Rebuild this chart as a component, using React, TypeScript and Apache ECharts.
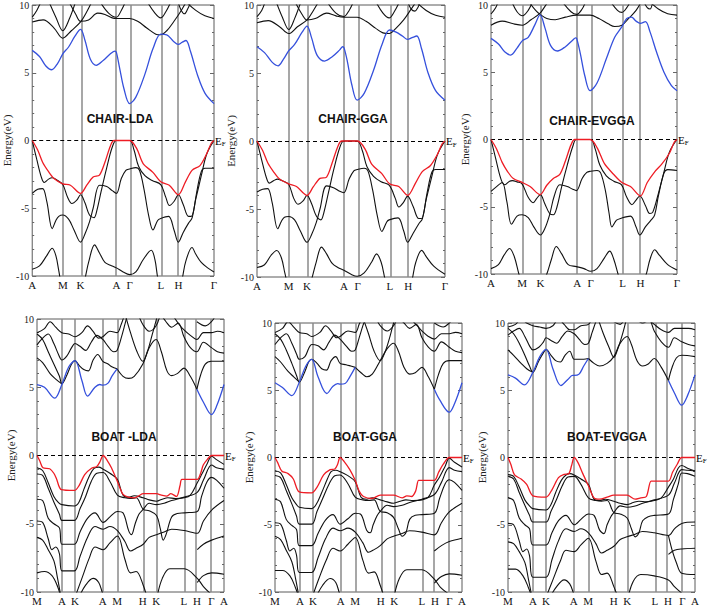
import React, { useEffect, useRef } from "react";
import * as echarts from "echarts";

type Band = number[][];

// ---------- k-path ticks ----------
const chairKPos = [0, 0.168, 0.266, 0.463, 0.536, 0.707, 0.804, 1];
const chairKLabels = ["A", "M", "K", "A", "Γ", "L", "H", "Γ"];
const boatKPos = [0, 0.133, 0.203, 0.352, 0.428, 0.566, 0.637, 0.786, 0.855, 0.933, 1];
const boatKLabels = ["M", "A", "K", "A", "M", "H", "K", "L", "H", "Γ", "A"];
const energyMin = -10;
const energyMax = 10;
const energyStep = 5;

// ---------- CHAIR-LDA ----------
const chairLdaRed: Band = [[0,0],[0.03,-0.7],[0.057,-1.6],[0.09,-2.3],[0.12,-2.8],[0.168,-3.2],[0.21,-3.3],[0.266,-3.9],[0.3,-3.3],[0.335,-2.7],[0.37,-2.55],[0.4,-1.6],[0.43,-0.4],[0.45,0],[0.536,0],[0.575,-0.6],[0.61,-1.7],[0.664,-2.35],[0.707,-3.05],[0.754,-3.3],[0.804,-4.0],[0.843,-3.05],[0.879,-2.2],[0.923,-1.85],[0.959,-1.0],[0.985,-0.2],[1,0]];
const chairLdaBlue: Band = [[0,6.65],[0.04,6.2],[0.075,5.5],[0.107,5.22],[0.14,5.7],[0.168,6.4],[0.2,6.9],[0.235,7.7],[0.266,8.2],[0.29,7.4],[0.32,6.0],[0.352,5.55],[0.39,5.9],[0.43,6.4],[0.455,6.6],[0.463,6.5],[0.48,5.4],[0.505,3.8],[0.536,2.72],[0.57,3.2],[0.62,4.9],[0.665,6.8],[0.707,7.85],[0.74,7.8],[0.775,7.35],[0.804,7.1],[0.825,7.25],[0.846,7.38],[0.87,6.6],[0.91,4.8],[0.95,3.5],[1,2.72]];
const chairLdaVB: Band[] = [
  [[0,0],[0.025,-1.4],[0.05,-2.7],[0.066,-3.1],[0.09,-2.85],[0.11,-2.75],[0.14,-2.95],[0.168,-3.25],[0.195,-4.2],[0.218,-4.65],[0.245,-4.4],[0.266,-4.0],[0.29,-4.6],[0.315,-5.5],[0.34,-5.7],[0.355,-5.2],[0.38,-3.7],[0.41,-2.0],[0.44,-0.5],[0.463,0],[0.536,0],[0.56,-0.7],[0.585,-1.9],[0.62,-2.6],[0.66,-2.95],[0.707,-3.25],[0.735,-4.2],[0.755,-4.8],[0.78,-4.5],[0.804,-4.0],[0.83,-4.7],[0.86,-5.6],[0.875,-5.6],[0.9,-4.3],[0.93,-2.6],[0.96,-1.0],[1,0]],
  [[0,-3.9],[0.03,-3.6],[0.057,-3.55],[0.08,-4.5],[0.11,-6.5],[0.13,-5.9],[0.146,-5.6],[0.168,-5.5],[0.2,-5.8],[0.23,-6.6],[0.266,-7.5],[0.29,-6.9],[0.315,-6.0],[0.335,-5.0],[0.37,-3.3],[0.41,-3.4],[0.44,-3.7],[0.463,-3.9],[0.49,-2.8],[0.515,-2.2],[0.536,-2.1],[0.57,-2.0],[0.59,-2.2],[0.615,-3.6],[0.64,-5.5],[0.664,-6.6],[0.69,-5.9],[0.707,-5.75],[0.75,-5.6],[0.78,-6.6],[0.804,-7.5],[0.83,-6.8],[0.86,-6.1],[0.88,-5.7],[0.905,-3.8],[0.93,-2.3],[0.95,-2.05],[1,-2.05]],
  [[0,-9.5],[0.04,-9.25],[0.08,-8.5],[0.11,-7.95],[0.13,-8.5],[0.146,-9.6],[0.16,-10.5],[0.2,-11.5],[0.26,-11.5],[0.29,-10.2],[0.31,-9.0],[0.343,-7.7],[0.37,-8.3],[0.4,-9.0],[0.43,-9.2],[0.463,-9.4],[0.5,-9.7],[0.536,-9.9],[0.57,-9.7],[0.61,-8.8],[0.655,-8.1],[0.675,-8.8],[0.69,-10.1],[0.71,-11.2],[0.8,-11.5],[0.825,-10.2],[0.845,-8.9],[0.879,-7.9],[0.9,-8.4],[0.93,-9.0],[0.965,-9.4],[1,-9.7]],
];
const chairLdaCB: Band[] = [
  [[0,9.1],[0.025,9.6],[0.05,10.3]],
  [[0,8.75],[0.06,8.9],[0.12,8.3],[0.168,7.55],[0.215,8.1],[0.266,8.75],[0.3,9.5],[0.33,10.3]],
  [[0.09,10.3],[0.13,9.1],[0.168,8.1],[0.205,9.0],[0.24,10.3]],
  [[0.2,10.3],[0.24,9.3],[0.266,8.8],[0.31,8.9],[0.36,9.4],[0.4,9.3],[0.44,9.05],[0.463,9.0],[0.536,9.0],[0.58,8.8],[0.63,8.3],[0.68,7.85],[0.707,7.8],[0.74,8.1],[0.78,8.8],[0.82,9.6],[0.85,10.3]],
  [[0.37,10.3],[0.42,9.4],[0.463,9.1],[0.49,9.6],[0.515,10.3]],
  [[0.63,10.3],[0.675,9.4],[0.707,9.05],[0.735,9.5],[0.765,10.3]],
  [[0.8,10.3],[0.82,9.6],[0.838,9.35],[0.855,9.7],[0.875,10.3]],
  [[0.84,10.3],[0.9,9.6],[0.95,9.2],[1,9.0]],
];

// ---------- CHAIR-GGA ----------
const chairGgaRed: Band = [[0,0],[0.03,-0.7],[0.057,-1.6],[0.09,-2.3],[0.12,-2.8],[0.168,-3.15],[0.21,-3.35],[0.266,-4.0],[0.3,-3.35],[0.335,-2.75],[0.37,-2.65],[0.4,-1.6],[0.43,-0.4],[0.45,0],[0.535,0],[0.575,-0.6],[0.61,-1.7],[0.664,-2.4],[0.705,-3.15],[0.754,-3.35],[0.802,-4.0],[0.843,-3.1],[0.879,-2.25],[0.923,-1.8],[0.959,-1.0],[0.985,-0.2],[1,0]];
const chairGgaBlue: Band = [[0,6.93],[0.04,6.5],[0.08,5.8],[0.112,5.53],[0.14,6.0],[0.169,6.64],[0.2,7.1],[0.24,8.0],[0.266,8.45],[0.29,7.6],[0.32,6.3],[0.36,5.88],[0.4,6.2],[0.44,6.7],[0.456,6.93],[0.463,6.85],[0.48,5.9],[0.505,4.1],[0.533,3.0],[0.57,3.5],[0.62,5.2],[0.665,7.1],[0.705,8.16],[0.74,8.0],[0.775,7.7],[0.801,7.47],[0.825,7.6],[0.85,7.72],[0.875,6.8],[0.91,5.0],[0.95,3.7],[1,3.0]];
const chairGgaVB: Band[] = [
  [[0,0],[0.025,-1.4],[0.05,-2.7],[0.066,-3.1],[0.09,-2.9],[0.11,-2.8],[0.14,-2.95],[0.169,-3.2],[0.195,-4.2],[0.218,-4.65],[0.245,-4.4],[0.266,-4.0],[0.29,-4.6],[0.315,-5.5],[0.34,-5.8],[0.355,-5.3],[0.38,-3.8],[0.41,-2.0],[0.44,-0.5],[0.462,0],[0.533,0],[0.56,-0.7],[0.585,-1.9],[0.62,-2.6],[0.66,-3.0],[0.703,-3.25],[0.735,-4.2],[0.755,-4.85],[0.78,-4.5],[0.801,-4.05],[0.83,-4.8],[0.86,-5.7],[0.875,-5.7],[0.9,-4.3],[0.93,-2.6],[0.96,-1.0],[1,0]],
  [[0,-3.75],[0.03,-3.55],[0.057,-3.5],[0.08,-4.5],[0.11,-6.45],[0.13,-5.9],[0.146,-5.6],[0.169,-5.55],[0.2,-5.8],[0.23,-6.6],[0.266,-7.45],[0.29,-6.9],[0.315,-6.0],[0.335,-5.0],[0.37,-3.3],[0.41,-3.45],[0.44,-3.7],[0.462,-3.8],[0.49,-2.8],[0.515,-2.2],[0.533,-2.1],[0.57,-2.0],[0.59,-2.2],[0.615,-3.6],[0.64,-5.5],[0.664,-6.65],[0.69,-5.95],[0.703,-5.8],[0.75,-5.65],[0.78,-6.6],[0.801,-7.45],[0.83,-6.8],[0.86,-6.1],[0.88,-5.7],[0.905,-3.8],[0.93,-2.3],[0.95,-2.1],[1,-2.1]],
  [[0,-9.3],[0.04,-9.1],[0.075,-8.4],[0.105,-8.05],[0.13,-8.6],[0.148,-9.7],[0.165,-10.6],[0.2,-11.5],[0.26,-11.5],[0.29,-10.2],[0.315,-8.9],[0.343,-7.8],[0.37,-8.3],[0.4,-9.0],[0.43,-9.3],[0.462,-9.5],[0.5,-9.8],[0.533,-9.95],[0.57,-9.7],[0.61,-8.9],[0.636,-8.3],[0.66,-8.9],[0.68,-10.1],[0.7,-11.2],[0.8,-11.5],[0.825,-10.2],[0.845,-8.9],[0.876,-8.04],[0.9,-8.5],[0.94,-9.2],[1,-9.8]],
];
const chairGgaCB: Band[] = [
  [[0,9.15],[0.025,9.6],[0.045,10.3]],
  [[0,8.7],[0.06,8.85],[0.12,8.4],[0.169,7.9],[0.215,8.4],[0.266,8.9],[0.3,9.6],[0.33,10.3]],
  [[0.1,10.3],[0.135,9.1],[0.169,8.2],[0.2,9.0],[0.235,10.3]],
  [[0.2,10.3],[0.24,9.3],[0.266,8.9],[0.31,9.0],[0.37,9.4],[0.42,9.2],[0.462,9.1],[0.533,9.1],[0.58,8.8],[0.63,8.3],[0.67,7.95],[0.703,7.9],[0.74,8.3],[0.78,8.9],[0.82,9.7],[0.85,10.3]],
  [[0.37,10.3],[0.42,9.4],[0.462,9.15],[0.49,9.6],[0.515,10.3]],
  [[0.63,10.3],[0.67,9.4],[0.703,9.05],[0.73,9.5],[0.76,10.3]],
  [[0.8,10.3],[0.82,9.7],[0.84,9.55],[0.855,9.8],[0.87,10.3]],
  [[0.84,10.3],[0.9,9.6],[0.95,9.25],[1,9.1]],
];

// ---------- CHAIR-EVGGA ----------
const chairEvRed: Band = [[0,0],[0.03,-0.7],[0.06,-1.7],[0.09,-2.4],[0.12,-2.9],[0.169,-3.2],[0.21,-3.5],[0.264,-4.1],[0.3,-3.4],[0.335,-2.9],[0.37,-2.6],[0.4,-1.6],[0.43,-0.4],[0.45,0],[0.533,0],[0.57,-0.6],[0.61,-1.8],[0.66,-2.6],[0.704,-3.2],[0.75,-3.5],[0.803,-4.2],[0.84,-3.2],[0.88,-2.4],[0.92,-1.8],[0.96,-1.0],[0.985,-0.2],[1,0]];
const chairEvBlue: Band = [[0,7.52],[0.04,7.1],[0.075,6.5],[0.106,6.28],[0.14,6.8],[0.169,7.35],[0.2,7.6],[0.235,8.5],[0.264,9.26],[0.29,8.3],[0.32,7.0],[0.357,6.58],[0.4,6.9],[0.44,7.4],[0.455,7.55],[0.461,7.5],[0.48,6.4],[0.505,4.7],[0.533,3.63],[0.57,4.2],[0.62,6.0],[0.665,7.6],[0.704,8.39],[0.73,9.0],[0.755,9.1],[0.78,8.8],[0.803,8.64],[0.83,8.76],[0.855,8.0],[0.89,6.5],[0.93,5.0],[0.97,4.0],[1,3.63]];
const chairEvVB: Band[] = [
  [[0,0],[0.025,-1.4],[0.055,-3.0],[0.075,-3.36],[0.1,-3.1],[0.115,-3.06],[0.14,-3.15],[0.167,-3.3],[0.2,-4.3],[0.226,-4.7],[0.245,-4.4],[0.265,-4.1],[0.29,-4.8],[0.315,-5.5],[0.335,-5.6],[0.355,-5.0],[0.38,-3.5],[0.41,-1.9],[0.44,-0.5],[0.459,0],[0.536,0],[0.56,-0.7],[0.585,-1.9],[0.62,-2.7],[0.66,-3.1],[0.701,-3.36],[0.73,-4.3],[0.758,-4.85],[0.78,-4.5],[0.8,-4.2],[0.83,-4.9],[0.853,-5.5],[0.87,-5.4],[0.9,-4.0],[0.93,-2.4],[0.96,-0.9],[1,0]],
  [[0,-3.86],[0.03,-3.5],[0.06,-3.2],[0.085,-4.6],[0.11,-6.3],[0.14,-5.7],[0.167,-5.6],[0.2,-5.8],[0.23,-6.5],[0.265,-7.1],[0.29,-6.6],[0.315,-5.6],[0.34,-4.2],[0.37,-3.36],[0.41,-3.5],[0.44,-3.7],[0.459,-3.8],[0.49,-2.9],[0.515,-2.45],[0.536,-2.36],[0.57,-2.3],[0.59,-2.5],[0.615,-3.8],[0.635,-5.5],[0.65,-6.5],[0.675,-6.0],[0.701,-5.85],[0.75,-5.7],[0.78,-6.5],[0.8,-7.1],[0.83,-6.5],[0.86,-6.0],[0.88,-5.6],[0.9,-4.2],[0.93,-2.5],[0.95,-2.24],[1,-2.3]],
  [[0,-9.6],[0.04,-9.3],[0.07,-8.6],[0.1,-8.1],[0.125,-8.7],[0.15,-10.0],[0.17,-10.8],[0.22,-11.5],[0.26,-11.2],[0.3,-10.0],[0.325,-8.9],[0.351,-7.96],[0.38,-8.5],[0.415,-9.3],[0.459,-9.45],[0.5,-9.6],[0.536,-9.8],[0.57,-9.6],[0.61,-8.8],[0.638,-8.3],[0.66,-8.9],[0.683,-10.0],[0.7,-10.8],[0.78,-11.5],[0.83,-10.2],[0.855,-8.9],[0.88,-8.2],[0.905,-8.6],[0.95,-9.3],[1,-9.7]],
];
const chairEvCB: Band[] = [
  [[0,9.33],[0.025,9.8],[0.04,10.3]],
  [[0,8.5],[0.06,8.8],[0.12,8.6],[0.169,8.5],[0.215,8.9],[0.264,9.4],[0.29,9.9],[0.31,10.3]],
  [[0.11,10.3],[0.14,9.5],[0.169,9.2],[0.2,9.6],[0.225,10.3]],
  [[0.2,10.3],[0.24,9.6],[0.264,9.3],[0.3,9.0],[0.345,8.9],[0.4,9.1],[0.461,9.25],[0.533,9.25],[0.58,9.0],[0.63,8.6],[0.665,8.4],[0.704,8.5],[0.74,9.0],[0.78,9.6],[0.81,10.3]],
  [[0.38,10.3],[0.43,9.5],[0.461,9.3],[0.49,9.7],[0.51,10.3]],
  [[0.64,10.3],[0.68,9.6],[0.704,9.45],[0.73,9.8],[0.75,10.3]],
  [[0.82,10.3],[0.84,9.8],[0.855,9.7],[0.87,10.3]],
  [[0.85,10.3],[0.9,9.7],[0.95,9.35],[1,9.25]],
];

// ---------- BOAT-LDA ----------
const boatLdaRed: Band = [[0,0],[0.015,-0.4],[0.032,-0.9],[0.068,-0.97],[0.09,-1.3],[0.104,-1.7],[0.13,-2.5],[0.2,-2.56],[0.225,-2.2],[0.255,-1.4],[0.29,-0.95],[0.32,-0.8],[0.335,-0.5],[0.354,0],[0.375,-0.35],[0.398,-0.9],[0.43,-1.9],[0.46,-2.85],[0.4875,-3.05],[0.523,-3.1],[0.545,-2.95],[0.568,-2.8],[0.639,-2.8],[0.665,-2.9],[0.693,-2.98],[0.716,-2.8],[0.746,-3.0],[0.765,-2.2],[0.775,-1.75],[0.857,-1.75],[0.875,-1.3],[0.889,-0.7],[0.91,-0.3],[0.934,0],[1,0]];
const boatLdaBlueA: Band = [[0,5.2],[0.04,5.0],[0.095,4.2],[0.133,5.2],[0.17,6.5],[0.203,6.95],[0.24,5.5],[0.27,4.35],[0.31,5.0],[0.335,5.2],[0.352,5.15],[0.38,5.3],[0.4,5.8],[0.428,6.35]];
const boatLdaBlueB: Band = [[0.855,4.85],[0.89,3.9],[0.933,3.0],[0.96,3.6],[1,5.2]];
const boatLdaCB: Band[] = [
  [[0.428,6.35],[0.46,5.8],[0.49,5.65],[0.52,5.8],[0.566,6.7],[0.6,7.9],[0.637,8.5],[0.665,7.6],[0.695,6.2],[0.72,5.85],[0.75,6.0],[0.786,6.4],[0.82,5.8],[0.855,4.85]],
  [[0,7.15],[0.03,6.8],[0.07,6.0],[0.1,5.6],[0.133,5.25]],
  [[0,8.9],[0.03,8.5],[0.06,7.6],[0.09,6.7],[0.12,5.8],[0.133,5.25],[0.16,5.9],[0.185,6.7],[0.203,6.95],[0.225,6.6],[0.25,6.3],[0.275,6.2],[0.3,7.0],[0.325,7.4],[0.352,6.9],[0.38,6.7],[0.4,6.5],[0.428,6.35]],
  [[0,8.1],[0.03,8.6],[0.06,8.9],[0.09,8.2],[0.115,7.4],[0.133,7.0],[0.16,7.3],[0.185,7.9],[0.203,8.2],[0.23,8.0],[0.26,7.7],[0.29,8.3],[0.32,8.8],[0.352,8.5],[0.38,8.0],[0.41,7.6],[0.428,7.7],[0.45,8.6],[0.47,9.6],[0.485,10.4]],
  [[0,9.0],[0.04,9.3],[0.07,9.8],[0.1,9.4],[0.133,9.0],[0.17,8.9],[0.203,8.7],[0.24,9.0],[0.27,9.5],[0.3,9.1],[0.33,8.6],[0.352,8.7],[0.39,9.1],[0.428,9.0],[0.45,9.6],[0.47,10.4]],
  [[0.47,10.4],[0.5,9.0],[0.535,7.6],[0.566,6.9],[0.59,7.6],[0.615,8.8],[0.637,9.9],[0.645,10.4]],
  [[0.54,10.4],[0.566,9.6],[0.6,9.1],[0.637,9.5],[0.66,10.4]],
  [[0.66,10.4],[0.69,9.8],[0.72,9.4],[0.755,9.7],[0.786,8.7],[0.82,7.9],[0.855,7.6],[0.89,8.3],[0.933,7.9],[0.965,7.6],[1,7.5]],
  [[0.72,10.4],[0.76,9.6],[0.786,9.2],[0.82,8.8],[0.855,8.5],[0.89,9.0],[0.933,9.0],[0.965,9.1],[1,9.0]],
  [[0.855,4.85],[0.875,5.9],[0.9,6.7],[0.933,6.9],[1,6.9]],
  [[0.855,9.8],[0.9,9.5],[0.933,9.8],[0.96,10.4]],
];
const boatLdaVB: Band[] = [
  [[0,-0.9],[0.03,-1.1],[0.06,-2.0],[0.09,-3.0],[0.115,-3.45],[0.133,-3.6],[0.2,-3.7],[0.225,-3.4],[0.25,-2.5],[0.28,-1.5],[0.305,-0.95],[0.33,-0.85],[0.354,-1.0],[0.39,-1.3],[0.43,-1.75],[0.46,-2.9],[0.49,-3.05],[0.52,-2.95],[0.568,-3.1],[0.6,-3.25],[0.639,-3.35],[0.67,-3.2],[0.7,-3.1],[0.74,-3.15],[0.788,-3.1],[0.82,-2.9],[0.857,-2.0],[0.88,-1.4],[0.91,-0.6],[0.934,-0.05],[0.96,-0.3],[1,-0.65]],
  [[0,-1.35],[0.03,-1.45],[0.06,-2.4],[0.09,-3.4],[0.12,-4.3],[0.133,-4.75],[0.2,-4.75],[0.23,-3.9],[0.26,-3.0],[0.29,-1.9],[0.32,-1.3],[0.354,-1.25],[0.39,-1.9],[0.43,-2.9],[0.47,-3.1],[0.5,-3.15],[0.53,-3.1],[0.568,-3.95],[0.6,-4.05],[0.639,-4.4],[0.66,-5.4],[0.675,-6.2],[0.69,-5.8],[0.72,-4.5],[0.75,-4.25],[0.788,-4.2],[0.857,-4.1],[0.88,-3.0],[0.91,-1.9],[0.934,-1.6],[0.96,-1.8],[1,-2.4]],
  [[0,-3.2],[0.03,-3.3],[0.06,-4.6],[0.09,-5.0],[0.12,-5.3],[0.133,-6.5],[0.2,-6.5],[0.23,-5.6],[0.27,-4.6],[0.31,-4.2],[0.354,-4.9],[0.39,-4.5],[0.43,-4.1],[0.46,-4.2],[0.49,-5.5],[0.505,-5.8],[0.525,-5.0],[0.545,-4.3],[0.568,-3.95],[0.6,-3.5],[0.639,-3.6],[0.68,-3.5],[0.72,-3.3],[0.788,-3.05],[0.857,-2.7],[0.89,-1.8],[0.934,-0.7],[0.96,-0.9],[1,-1.0]],
  [[0,-4.8],[0.03,-4.9],[0.06,-6.1],[0.08,-6.9],[0.1,-6.7],[0.12,-7.2],[0.133,-8.45],[0.2,-8.45],[0.23,-7.4],[0.27,-6.0],[0.31,-5.2],[0.354,-5.4],[0.39,-5.2],[0.43,-5.5],[0.47,-6.3],[0.5,-7.0],[0.53,-6.8],[0.568,-6.5],[0.6,-6.0],[0.639,-5.8],[0.68,-5.6],[0.72,-5.4],[0.788,-5.5],[0.857,-5.7],[0.89,-4.8],[0.934,-4.0],[1,-3.3]],
  [[0,-6.0],[0.03,-6.2],[0.06,-6.9],[0.09,-7.7],[0.11,-9.0],[0.13,-10.5]],
  [[0,-8.6],[0.04,-8.5],[0.08,-8.8],[0.11,-9.6],[0.13,-10.5]],
  [[0.2,-10.5],[0.24,-9.0],[0.28,-7.5],[0.31,-6.7],[0.354,-6.9],[0.39,-6.4],[0.43,-5.9],[0.47,-7.6],[0.5,-8.6],[0.53,-8.5],[0.568,-9.5],[0.59,-10.5]],
  [[0.22,-10.5],[0.26,-9.5],[0.3,-9.0],[0.33,-9.3],[0.354,-10.2],[0.37,-10.5]],
  [[0.64,-10.5],[0.67,-9.0],[0.71,-8.3],[0.788,-8.3],[0.857,-9.0],[0.89,-9.6],[0.934,-10.2],[0.96,-10.5]],
  [[0.857,-6.9],[0.89,-6.5],[0.934,-6.2],[1,-5.9]],
  [[0.857,-9.3],[0.89,-8.8],[0.934,-8.6],[1,-8.7]],
];

// ---------- BOAT-GGA ----------
const boatGgaRed: Band = [[0,0],[0.015,-0.4],[0.036,-1.0],[0.07,-1.2],[0.098,-1.6],[0.13,-2.56],[0.196,-2.63],[0.225,-2.2],[0.26,-1.3],[0.295,-0.9],[0.32,-0.85],[0.335,-0.5],[0.348,0],[0.37,-0.3],[0.4,-0.9],[0.429,-1.7],[0.45,-2.5],[0.473,-2.9],[0.518,-3.05],[0.5625,-2.8],[0.634,-2.8],[0.68,-3.0],[0.705,-2.85],[0.73,-2.9],[0.752,-2.5],[0.768,-1.7],[0.786,-1.7],[0.852,-1.7],[0.875,-1.1],[0.9,-0.5],[0.932,0],[1,0]];
const boatGgaBlueA: Band = [[0,5.56],[0.04,5.2],[0.09,4.6],[0.13,5.6],[0.165,6.8],[0.196,7.3],[0.23,6.0],[0.277,4.76],[0.31,5.3],[0.335,5.5],[0.348,5.45],[0.375,5.5],[0.4,6.0],[0.429,6.7]];
const boatGgaBlueB: Band = [[0.852,5.07],[0.88,4.3],[0.932,3.37],[0.96,4.0],[1,5.56]];
const boatGgaCB: Band[] = [
  [[0.429,6.7],[0.46,6.3],[0.49,6.0],[0.52,6.2],[0.5625,7.2],[0.6,8.1],[0.634,8.5],[0.66,7.9],[0.69,6.7],[0.72,6.2],[0.75,6.3],[0.786,6.7],[0.82,6.0],[0.852,5.07]],
  [[0,7.5],[0.03,7.1],[0.07,6.4],[0.1,6.0],[0.13,5.6]],
  [[0,9.2],[0.03,8.8],[0.06,8.0],[0.09,7.0],[0.115,6.1],[0.13,5.6],[0.16,6.4],[0.18,7.1],[0.196,7.3],[0.225,7.0],[0.25,6.6],[0.275,6.5],[0.3,7.2],[0.325,7.5],[0.348,7.0],[0.38,6.9],[0.405,6.8],[0.429,6.7]],
  [[0,8.4],[0.03,8.9],[0.06,9.2],[0.09,8.5],[0.115,7.7],[0.13,7.3],[0.16,7.5],[0.18,8.1],[0.196,8.4],[0.23,8.3],[0.26,8.0],[0.29,8.6],[0.32,9.1],[0.348,8.8],[0.38,8.3],[0.41,7.9],[0.429,8.0],[0.45,8.9],[0.47,9.8],[0.485,10.4]],
  [[0,9.3],[0.04,9.6],[0.07,10.1],[0.1,9.7],[0.13,9.3],[0.17,9.2],[0.196,9.0],[0.24,9.3],[0.27,9.8],[0.3,9.4],[0.33,8.9],[0.348,9.0],[0.39,9.4],[0.429,9.3],[0.45,9.9],[0.465,10.4]],
  [[0.47,10.4],[0.5,9.2],[0.53,7.9],[0.5625,7.2],[0.59,7.9],[0.615,9.0],[0.634,10.0],[0.645,10.4]],
  [[0.54,10.4],[0.5625,9.8],[0.6,9.4],[0.634,9.8],[0.655,10.4]],
  [[0.66,10.4],[0.69,10.0],[0.72,9.6],[0.755,9.9],[0.786,8.9],[0.82,8.2],[0.852,7.9],[0.89,8.6],[0.932,8.2],[0.965,7.9],[1,7.8]],
  [[0.72,10.4],[0.76,9.8],[0.786,9.4],[0.82,9.0],[0.852,8.8],[0.89,9.2],[0.932,9.2],[0.965,9.3],[1,9.2]],
  [[0.852,5.07],[0.875,6.2],[0.9,7.0],[0.932,7.2],[1,7.2]],
  [[0.852,10.0],[0.9,9.7],[0.932,10.0],[0.96,10.4]],
];
const boatGgaVB: Band[] = [
  [[0,-0.98],[0.03,-1.15],[0.06,-2.0],[0.09,-3.0],[0.115,-3.5],[0.13,-3.7],[0.196,-3.8],[0.22,-3.5],[0.25,-2.6],[0.28,-1.6],[0.3,-1.05],[0.325,-0.95],[0.348,-1.05],[0.39,-1.35],[0.429,-1.8],[0.46,-2.95],[0.49,-3.1],[0.52,-3.0],[0.5625,-3.15],[0.6,-3.3],[0.634,-3.4],[0.67,-3.25],[0.7,-3.15],[0.74,-3.2],[0.786,-3.15],[0.82,-2.95],[0.852,-2.05],[0.88,-1.45],[0.91,-0.65],[0.932,-0.05],[0.96,-0.35],[1,-0.7]],
  [[0,-1.34],[0.03,-1.5],[0.06,-2.45],[0.09,-3.45],[0.115,-4.35],[0.13,-4.95],[0.196,-4.95],[0.225,-4.0],[0.255,-3.05],[0.29,-1.95],[0.32,-1.35],[0.348,-1.3],[0.39,-1.95],[0.429,-2.95],[0.47,-3.15],[0.5,-3.2],[0.53,-3.15],[0.5625,-4.0],[0.6,-4.1],[0.634,-4.45],[0.66,-5.3],[0.68,-5.85],[0.7,-5.6],[0.72,-4.6],[0.75,-4.3],[0.786,-4.25],[0.852,-4.15],[0.88,-3.05],[0.91,-1.95],[0.932,-1.65],[0.96,-1.85],[1,-2.45]],
  [[0,-3.1],[0.03,-3.3],[0.06,-4.6],[0.09,-5.05],[0.115,-5.35],[0.13,-6.55],[0.196,-6.55],[0.23,-5.65],[0.27,-4.65],[0.31,-4.25],[0.348,-4.95],[0.39,-4.55],[0.429,-4.15],[0.46,-4.25],[0.49,-5.4],[0.509,-5.6],[0.525,-5.0],[0.545,-4.35],[0.5625,-4.0],[0.6,-3.55],[0.634,-3.65],[0.68,-3.55],[0.72,-3.35],[0.786,-3.1],[0.852,-2.75],[0.89,-1.85],[0.932,-0.75],[0.96,-0.95],[1,-1.05]],
  [[0,-4.85],[0.03,-4.95],[0.06,-6.15],[0.08,-6.95],[0.1,-6.75],[0.115,-7.25],[0.13,-8.55],[0.196,-8.55],[0.23,-7.45],[0.27,-6.05],[0.31,-5.25],[0.348,-5.45],[0.39,-5.25],[0.429,-5.55],[0.47,-6.35],[0.5,-7.05],[0.53,-6.85],[0.5625,-6.55],[0.6,-6.05],[0.634,-5.85],[0.68,-5.65],[0.72,-5.45],[0.786,-5.55],[0.852,-5.75],[0.89,-4.85],[0.932,-4.05],[1,-3.4]],
  [[0,-5.85],[0.03,-6.1],[0.06,-6.9],[0.09,-7.75],[0.11,-9.0],[0.13,-10.5]],
  [[0,-8.4],[0.04,-8.4],[0.08,-8.8],[0.11,-9.7],[0.13,-10.5]],
  [[0.196,-10.5],[0.235,-9.0],[0.275,-7.6],[0.31,-6.75],[0.348,-6.95],[0.39,-6.45],[0.429,-5.95],[0.47,-7.65],[0.5,-8.6],[0.53,-8.5],[0.5625,-9.5],[0.585,-10.5]],
  [[0.215,-10.5],[0.255,-9.5],[0.295,-9.0],[0.325,-9.3],[0.348,-10.2],[0.365,-10.5]],
  [[0.634,-10.5],[0.665,-9.0],[0.705,-8.35],[0.786,-8.35],[0.852,-9.05],[0.885,-9.65],[0.932,-10.2],[0.955,-10.5]],
  [[0.852,-6.95],[0.89,-6.55],[0.932,-6.25],[1,-6.0]],
  [[0.852,-9.35],[0.89,-8.85],[0.932,-8.65],[1,-8.75]],
];

// ---------- BOAT-EVGGA ----------
const boatEvRed: Band = [[0,0],[0.015,-0.5],[0.035,-1.3],[0.07,-1.6],[0.1,-2.0],[0.133,-2.85],[0.2035,-2.95],[0.235,-2.4],[0.27,-1.5],[0.3,-1.25],[0.325,-1.2],[0.34,-0.6],[0.354,0],[0.375,-0.4],[0.4,-1.2],[0.43,-2.1],[0.46,-3.0],[0.49,-3.1],[0.53,-2.95],[0.566,-2.8],[0.637,-2.8],[0.68,-3.1],[0.71,-3.0],[0.74,-2.9],[0.765,-1.75],[0.782,-1.75],[0.858,-1.75],[0.88,-1.1],[0.905,-0.5],[0.929,0],[1,0]];
const boatEvBlueA: Band = [[0,6.14],[0.04,5.9],[0.088,5.4],[0.133,6.33],[0.17,7.5],[0.2035,8.04],[0.24,6.6],[0.283,5.35],[0.32,5.8],[0.345,6.1],[0.354,6.1],[0.38,6.2],[0.405,6.8],[0.43,7.36]];
const boatEvBlueB: Band = [[0.858,5.72],[0.89,4.8],[0.929,3.89],[0.96,4.6],[1,6.14]];
const boatEvCB: Band[] = [
  [[0.43,7.36],[0.46,7.0],[0.49,6.8],[0.53,7.0],[0.566,7.5],[0.6,8.5],[0.637,9.0],[0.66,8.4],[0.69,7.2],[0.72,6.8],[0.75,6.95],[0.782,7.36],[0.82,6.7],[0.858,5.72]],
  [[0,8.0],[0.03,7.6],[0.07,7.0],[0.1,6.6],[0.133,6.33]],
  [[0,9.6],[0.03,9.2],[0.06,8.5],[0.09,7.6],[0.115,6.8],[0.133,6.33],[0.165,7.2],[0.19,7.8],[0.2035,8.04],[0.23,7.6],[0.255,7.2],[0.28,7.1],[0.305,7.6],[0.33,7.9],[0.354,7.3],[0.38,7.3],[0.405,7.3],[0.43,7.36]],
  [[0,9.1],[0.03,9.4],[0.06,9.6],[0.09,9.0],[0.115,8.3],[0.133,8.0],[0.165,8.2],[0.19,8.6],[0.2035,8.9],[0.23,8.7],[0.26,8.5],[0.29,9.0],[0.32,9.4],[0.354,9.2],[0.38,8.8],[0.41,8.4],[0.43,8.5],[0.45,9.3],[0.47,10.1],[0.48,10.4]],
  [[0,9.7],[0.04,9.9],[0.07,10.3],[0.1,10.0],[0.133,9.8],[0.17,9.7],[0.2035,9.6],[0.24,9.8],[0.27,10.3],[0.3,9.9],[0.33,9.5],[0.354,9.5],[0.39,9.8],[0.43,9.9],[0.45,10.4]],
  [[0.48,10.4],[0.51,9.2],[0.54,8.2],[0.566,7.45],[0.59,8.2],[0.615,9.3],[0.635,10.4]],
  [[0.55,10.4],[0.566,10.1],[0.6,9.9],[0.625,10.4]],
  [[0.68,10.4],[0.72,10.0],[0.755,10.2],[0.782,9.4],[0.82,8.6],[0.858,8.2],[0.89,8.9],[0.929,8.6],[0.965,8.4],[1,8.3]],
  [[0.74,10.4],[0.782,9.9],[0.82,9.5],[0.858,9.3],[0.89,9.6],[0.929,9.6],[0.965,9.6],[1,9.5]],
  [[0.858,5.72],[0.875,6.6],[0.9,7.4],[0.929,7.6],[1,7.5]],
];
const boatEvVB: Band[] = [
  [[0,-1.27],[0.03,-1.4],[0.06,-2.2],[0.09,-3.15],[0.115,-3.6],[0.133,-3.8],[0.2035,-3.9],[0.23,-3.5],[0.255,-2.6],[0.285,-1.7],[0.31,-1.3],[0.33,-1.2],[0.354,-1.3],[0.39,-1.6],[0.43,-2.0],[0.46,-3.1],[0.49,-3.2],[0.52,-3.1],[0.566,-3.25],[0.6,-3.4],[0.637,-3.5],[0.67,-3.35],[0.7,-3.25],[0.74,-3.3],[0.782,-3.2],[0.82,-3.0],[0.858,-2.2],[0.885,-1.6],[0.91,-0.8],[0.929,-0.6],[0.96,-0.8],[1,-1.0]],
  [[0,-1.4],[0.03,-1.6],[0.06,-2.6],[0.09,-3.55],[0.115,-4.3],[0.133,-4.8],[0.2035,-4.8],[0.23,-4.0],[0.26,-3.1],[0.29,-2.1],[0.32,-1.45],[0.354,-1.4],[0.39,-2.0],[0.43,-3.0],[0.47,-3.2],[0.5,-3.25],[0.53,-3.2],[0.566,-4.1],[0.6,-4.2],[0.637,-4.5],[0.66,-5.3],[0.68,-5.9],[0.7,-5.6],[0.72,-4.7],[0.75,-4.4],[0.782,-4.3],[0.858,-4.2],[0.885,-3.1],[0.91,-2.0],[0.929,-1.15],[0.96,-1.2],[1,-1.4]],
  [[0,-2.98],[0.03,-3.2],[0.06,-4.5],[0.09,-5.0],[0.115,-5.3],[0.133,-6.5],[0.2035,-6.5],[0.235,-5.6],[0.27,-4.7],[0.31,-4.3],[0.354,-5.0],[0.39,-4.6],[0.43,-4.2],[0.46,-4.3],[0.49,-5.4],[0.513,-5.66],[0.53,-5.0],[0.55,-4.4],[0.566,-4.1],[0.6,-3.6],[0.637,-3.7],[0.68,-3.6],[0.72,-3.4],[0.782,-3.15],[0.858,-2.8],[0.89,-1.9],[0.929,-0.9],[0.96,-0.95],[1,-1.0]],
  [[0,-4.9],[0.03,-5.0],[0.06,-6.2],[0.08,-7.0],[0.1,-6.8],[0.115,-7.3],[0.133,-8.9],[0.2035,-8.9],[0.235,-7.6],[0.27,-6.2],[0.31,-5.3],[0.354,-5.5],[0.39,-5.3],[0.43,-5.6],[0.47,-6.4],[0.5,-7.1],[0.53,-6.9],[0.566,-6.6],[0.6,-6.1],[0.637,-5.9],[0.68,-5.7],[0.72,-5.5],[0.782,-5.6],[0.858,-5.8],[0.89,-5.3],[0.929,-4.9],[1,-4.8]],
  [[0,-6.27],[0.03,-6.4],[0.06,-7.0],[0.09,-7.8],[0.11,-9.1],[0.13,-10.5]],
  [[0,-8.3],[0.04,-8.3],[0.08,-8.8],[0.11,-9.7],[0.13,-10.5]],
  [[0.2,-10.5],[0.24,-9.1],[0.28,-7.7],[0.31,-6.9],[0.354,-7.0],[0.39,-6.5],[0.43,-6.0],[0.47,-7.7],[0.5,-8.7],[0.53,-8.6],[0.566,-9.6],[0.59,-10.5]],
  [[0.22,-10.5],[0.26,-9.6],[0.3,-9.1],[0.33,-9.4],[0.354,-10.2],[0.37,-10.5]],
  [[0.64,-10.5],[0.67,-9.2],[0.71,-8.7],[0.782,-8.8],[0.858,-9.1],[0.89,-9.6],[0.929,-10.1],[0.955,-10.5]],
  [[0.858,-7.2],[0.89,-6.9],[0.929,-6.8],[1,-6.75]],
  [[0.858,-5.8],[0.88,-7.0],[0.9,-7.8],[0.929,-8.6],[1,-8.7]],
];

const SERIF = '"Liberation Serif", "DejaVu Serif", "Times New Roman", serif';
const SANS = '"Liberation Sans", Arial, Helvetica, sans-serif';

interface Panel {
  title: string; left: number; top: number; width: number; height: number;
  kPos: number[]; kLabels: string[]; red: Band; blue: Band[]; black: Band[];
  tx: number; ty: number; nameGap: number;
}

const panels: Panel[] = [
  { title: "CHAIR-LDA", left: 26, top: 5, width: 188, height: 271, kPos: chairKPos, kLabels: chairKLabels, red: chairLdaRed, blue: [chairLdaBlue], black: [...chairLdaCB, ...chairLdaVB], tx: 120, ty: 119, nameGap: 13 },
  { title: "CHAIR-GGA", left: 257, top: 5, width: 188, height: 272, kPos: chairKPos, kLabels: chairKLabels, red: chairGgaRed, blue: [chairGgaBlue], black: [...chairGgaCB, ...chairGgaVB], tx: 353, ty: 119, nameGap: 16 },
  { title: "CHAIR-EVGGA", left: 491, top: 5, width: 186, height: 269, kPos: chairKPos, kLabels: chairKLabels, red: chairEvRed, blue: [chairEvBlue], black: [...chairEvCB, ...chairEvVB], tx: 592, ty: 121, nameGap: 15 },
  { title: "BOAT -LDA", left: 37, top: 319, width: 187, height: 274, kPos: boatKPos, kLabels: boatKLabels, red: boatLdaRed, blue: [boatLdaBlueA, boatLdaBlueB], black: [...boatLdaCB, ...boatLdaVB], tx: 124, ty: 437, nameGap: 16 },
  { title: "BOAT-GGA", left: 275, top: 323, width: 187, height: 274, kPos: boatKPos, kLabels: boatKLabels, red: boatGgaRed, blue: [boatGgaBlueA, boatGgaBlueB], black: [...boatGgaCB, ...boatGgaVB], tx: 365, ty: 437, nameGap: 16 },
  { title: "BOAT-EVGGA", left: 508, top: 323, width: 187, height: 273, kPos: boatKPos, kLabels: boatKLabels, red: boatEvRed, blue: [boatEvBlueA, boatEvBlueB], black: [...boatEvCB, ...boatEvVB], tx: 607, ty: 437, nameGap: 17 },
];

export default function App() {
  const ref = useRef<HTMLDivElement>(null);
  useEffect(() => {
    if (!ref.current) return;
    const chart = echarts.init(ref.current, null, { renderer: "svg" });
    const grid: any[] = [];
    const xAxis: any[] = [];
    const yAxis: any[] = [];
    const series: any[] = [];
    const graphic: any[] = [];
    panels.forEach((p, i) => {
      grid.push({ left: p.left, top: p.top, width: p.width, height: p.height, show: true, borderColor: "#5a5a5a", borderWidth: 1, backgroundColor: "transparent" });
      xAxis.push({
        type: "value", gridIndex: i, min: 0, max: 1, position: "bottom",
        axisLine: { show: false }, axisTick: { show: false }, splitLine: { show: false },
        axisLabel: {
          customValues: p.kPos, margin: 3, fontFamily: SERIF, fontSize: 11, color: "#111",
          formatter: (v: number) => { const k = p.kPos.findIndex((t) => Math.abs(t - v) < 1e-9); return k >= 0 ? p.kLabels[k] : ""; },
        },
      });
      const yCommon = {
        type: "value", gridIndex: i, min: energyMin, max: energyMax, interval: energyStep,
        axisLine: { show: false }, splitLine: { show: false },
        axisTick: { show: true, inside: true, length: 4, lineStyle: { color: "#666" } },
        minorTick: { show: true, splitNumber: 5, length: 2, lineStyle: { color: "#666" } },
      };
      yAxis.push({
        ...yCommon, position: "left",
        axisLabel: { fontFamily: SERIF, fontSize: 10, color: "#222", margin: 3 },
        name: "Energy(eV)", nameLocation: "middle", nameGap: p.nameGap, nameRotate: 90,
        nameTextStyle: { fontFamily: SERIF, fontSize: 11, color: "#222" },
      });
      yAxis.push({ ...yCommon, position: "right", axisLabel: { show: false } });
      const yi = i * 2;
      const markData: any[] = p.kPos.slice(1, -1).map((t) => ({ xAxis: t, lineStyle: { color: "#8a8a8a", width: 1.5, type: "solid" }, label: { show: false } }));
      markData.push({
        yAxis: 0, lineStyle: { color: "#000", width: 1, type: [4, 3] },
        label: {
          show: true, position: "end", distance: 1, formatter: "{e|E}{f|F}",
          rich: { e: { fontFamily: SERIF, fontSize: 11, color: "#000" }, f: { fontFamily: SERIF, fontSize: 7, color: "#000", padding: [7, 0, 0, 0] } },
        },
      });
      series.push({
        type: "line", xAxisIndex: i, yAxisIndex: yi, data: [[0, -50], [1, -50]], symbol: "none",
        lineStyle: { opacity: 0 }, silent: true, z: 1,
        markLine: { symbol: ["none", "none"], silent: true, z: 1, animation: false, data: markData },
      });
      p.black.forEach((b) => series.push({ type: "line", xAxisIndex: i, yAxisIndex: yi, data: b, symbol: "none", showSymbol: false, smooth: 0.35, silent: true, z: 3, lineStyle: { color: "#111", width: 1.1 } }));
      p.blue.forEach((b) => series.push({ type: "line", xAxisIndex: i, yAxisIndex: yi, data: b, symbol: "none", showSymbol: false, smooth: 0.35, silent: true, z: 4, lineStyle: { color: "#3550dc", width: 1.3 } }));
      series.push({ type: "line", xAxisIndex: i, yAxisIndex: yi, data: p.red, symbol: "none", showSymbol: false, smooth: 0.3, silent: true, z: 5, lineStyle: { color: "#ee1c24", width: 1.3 } });
      graphic.push({ type: "text", x: p.tx, y: p.ty, z: 10, style: { text: p.title, font: `bold 12px ${SANS}`, fill: "#111", align: "center", verticalAlign: "middle", textAlign: "center", textVerticalAlign: "middle" } });
    });
    chart.setOption({ animation: false, backgroundColor: "#fff", grid, xAxis, yAxis, series, graphic });
    return () => chart.dispose();
  }, []);
  return <div ref={ref} style={{ position: "fixed", left: 0, top: 0, width: 709, height: 606, background: "#fff" }} />;
}
